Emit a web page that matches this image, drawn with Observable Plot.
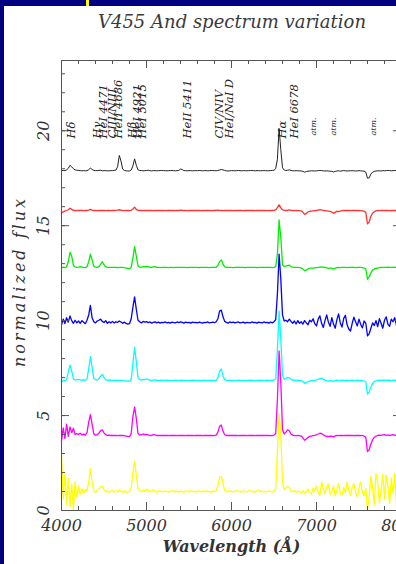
<!DOCTYPE html>
<html>
<head>
<meta charset="utf-8">
<script src="https://cdn.jsdelivr.net/npm/d3@7"></script>
<script src="https://cdn.jsdelivr.net/npm/@observablehq/plot@0.6"></script>
<style>
  html, body { margin: 0; padding: 0; }
  body { width: 396px; height: 564px; overflow: hidden; position: relative; background: #000080; }
  #paper { position: absolute; left: 4px; top: 6px; width: 420px; height: 570px; background: #ffffff; }
  #mark { position: absolute; left: 86px; top: 0; width: 3px; height: 6px; background: #ffff00; }
  #title { position: absolute; left: 0; top: 11px; width: 464px; text-align: center; font: italic 18px "DejaVu Serif"; line-height: 22px; color: #3a3a3a; }
  #chart { position: absolute; left: 0; top: 0; }
</style>
</head>
<body>
<div id="paper"></div>
<div id="mark"></div>
<div id="title">V455 And spectrum variation</div>
<div id="chart"></div>
<script>
// wavelength grid (Å), one sample every 20 Å
const wavelength = d3.range(4000, 8001, 20);

const seriesNames = ["black", "red", "green", "blue", "cyan", "magenta", "yellow"];
const seriesColors = ["#222222", "#ff3333", "#00ee00", "#0000ff", "#00ffff", "#ff00ff", "#ffff00"];
const seriesOffsets = [16.9, 14.8, 11.8, 8.9, 5.85, 2.95, 0];

// fluxes in hundredths of continuum
const fluxBlack = [
100,101,100,104,112,128,120,110,104,102,
101,100,99,100,99,100,104,114,106,101,
100,100,101,102,99,100,100,99,99,100,
100,101,103,120,180,150,108,101,99,98,
98,103,125,162,128,104,101,100,99,100,
101,102,100,99,100,100,99,100,100,101,
100,100,99,100,100,101,100,99,100,101,
108,106,100,100,99,100,100,99,100,100,
100,101,100,99,100,100,99,100,101,100,
100,99,101,103,106,104,101,99,98,99,
100,100,99,100,101,100,99,100,100,99,
100,100,101,100,99,100,100,99,100,100,
100,99,100,100,101,102,110,160,322,210,
115,103,101,102,104,101,99,99,100,99,
99,98,96,92,95,97,98,99,99,98,
99,100,101,100,99,98,99,98,97,96,
93,96,98,99,97,99,100,99,98,99,
99,100,99,98,99,100,99,98,97,92,
60,62,82,92,96,98,99,99,98,100,
99,100,101,100,99,100,101,100,99,100,
100];
const fluxRed = [
88,93,97,100,104,112,106,101,100,99,
100,101,100,99,100,100,102,106,102,100,
100,99,100,101,100,100,99,100,100,99,
100,100,101,102,104,102,100,99,100,100,
99,101,108,118,106,101,100,100,99,100,
100,101,100,100,99,100,100,101,100,100,
100,99,100,100,101,100,100,99,100,100,
102,101,100,100,99,100,100,101,100,100,
100,100,99,100,100,101,100,100,99,100,
100,101,102,101,100,99,100,100,101,100,
100,99,100,100,101,100,100,99,100,100,
100,101,100,100,99,100,101,100,100,100,
100,99,100,101,100,101,104,115,130,114,
104,101,100,101,103,101,100,99,100,99,
99,98,92,80,84,92,96,97,98,99,
100,102,104,103,100,99,98,97,95,92,
85,90,96,94,97,99,100,101,100,100,
99,100,101,100,99,100,99,98,96,90,
30,40,70,86,94,98,100,99,100,101,
100,101,100,99,100,101,100,100,101,100,
100];
const fluxGreen = [
98,102,99,104,130,180,160,112,103,101,
102,104,102,100,99,104,130,170,140,106,
102,101,104,118,130,114,104,101,100,101,
100,100,101,99,100,101,100,99,97,95,
93,100,150,210,160,108,101,102,105,104,
106,104,101,100,103,104,101,100,99,100,
100,101,100,99,100,100,99,100,101,100,
100,101,100,100,99,100,100,101,100,100,
100,99,100,100,101,100,100,99,100,100,
100,101,110,132,140,118,103,100,100,100,
100,99,100,100,101,100,100,100,99,100,
100,100,101,100,100,99,100,100,101,100,
100,101,100,100,99,100,104,170,350,260,
112,105,108,110,112,105,102,101,100,100,
99,98,92,84,86,92,96,97,97,98,
99,100,102,103,102,100,98,95,96,97,
92,96,99,100,99,100,101,100,99,100,
100,101,100,99,100,101,100,99,97,92,
38,50,72,86,92,95,97,99,101,100,
101,100,102,101,100,101,102,100,101,100,
101];
const fluxBlue = [
88,118,95,125,102,135,110,96,112,98,
108,96,110,102,94,112,140,190,125,104,
98,108,112,118,106,100,110,96,104,98,
106,97,104,101,108,103,96,102,95,92,
94,120,180,235,170,112,104,98,106,102,
105,99,103,97,101,104,98,102,97,101,
99,103,98,101,97,102,100,98,103,99,
104,101,97,102,99,101,97,102,99,101,
98,102,100,97,101,99,103,98,100,102,
99,104,120,160,165,130,106,101,97,103,
99,102,98,101,103,98,100,102,97,101,
100,98,103,99,101,97,102,100,98,103,
99,101,97,103,98,104,115,250,460,330,
140,108,112,104,118,106,96,108,92,110,
96,104,92,110,98,88,112,104,120,94,
82,118,135,96,74,110,140,102,80,126,
92,70,115,145,98,76,122,138,88,66,
55,96,128,104,82,118,90,72,108,96,
30,42,70,98,84,110,78,120,96,70,
112,130,92,80,118,104,126,88,110,124,
96];
const fluxCyan = [
92,100,98,104,145,180,150,108,102,104,
105,103,101,103,101,108,160,225,170,110,
104,102,108,124,132,116,104,101,102,101,
100,100,101,99,100,100,99,98,97,96,
95,105,190,275,200,115,104,102,106,104,
108,106,101,100,102,103,101,100,100,101,
100,100,101,100,99,100,100,101,100,100,
100,101,100,100,100,99,100,101,100,100,
100,100,99,100,101,100,100,100,99,100,
100,101,115,150,160,125,104,100,100,101,
100,100,99,100,101,100,100,99,100,100,
100,101,100,100,99,100,100,101,100,100,
100,101,100,100,101,102,108,260,465,320,
125,106,110,116,114,106,102,101,100,101,
100,99,94,85,88,94,97,99,100,101,
103,106,110,112,106,102,99,98,99,98,
95,99,101,100,99,101,100,99,101,100,
100,101,100,99,101,100,99,100,97,92,
28,40,66,84,94,98,100,102,100,102,
101,100,102,101,99,101,102,100,101,100,
101];
const fluxMagenta = [
70,140,85,160,95,145,115,138,105,110,
106,112,103,107,102,115,170,210,160,108,
102,104,112,126,130,114,104,101,102,100,
100,101,100,99,100,101,100,99,97,95,
94,110,200,250,190,110,102,104,108,105,
106,103,100,101,104,103,100,101,100,100,
100,101,100,99,100,100,101,100,99,100,
101,100,100,99,100,101,100,100,99,100,
100,101,100,99,100,100,101,100,100,99,
100,102,118,148,155,122,104,100,101,100,
100,100,101,100,99,100,100,101,100,99,
100,101,100,100,99,100,101,100,100,100,
100,101,100,99,100,102,110,290,545,380,
130,108,118,130,125,108,102,100,99,100,
99,97,88,75,82,90,95,97,99,101,
104,108,112,110,104,98,96,94,96,97,
92,98,100,99,101,100,99,101,100,100,
100,101,99,100,101,100,99,100,97,90,
15,25,55,78,90,96,100,102,101,103,
104,101,103,100,102,104,101,103,100,102,
101];
const fluxYellow = [
290,60,200,30,170,20,140,5,150,70,
130,85,115,90,110,105,150,220,150,105,
95,108,112,125,128,110,98,104,96,102,
106,98,103,97,108,100,96,104,95,98,
100,120,200,258,190,115,104,98,108,102,
112,106,98,104,110,102,96,104,99,103,
97,104,100,96,103,99,105,98,102,97,
103,99,96,104,100,98,105,99,102,97,
101,104,97,102,99,105,98,101,96,103,
100,105,130,175,180,140,108,98,104,99,
103,97,101,106,99,102,96,104,100,98,
102,106,98,101,97,104,108,99,103,97,
101,98,104,100,97,103,115,310,510,400,
150,110,118,128,120,104,98,106,96,103,
98,92,104,88,100,112,94,86,118,104,
130,96,80,150,112,88,125,140,84,100,
128,76,110,142,90,82,120,95,150,105,
80,125,140,95,70,118,150,100,78,115,
10,70,180,120,30,195,150,40,110,190,
60,185,130,35,170,90,195,25,150,60,
175];

const seriesFlux = [fluxBlack, fluxRed, fluxGreen, fluxBlue, fluxCyan, fluxMagenta, fluxYellow];

// line identifications (label text, wavelength position of label)
const lineLabelTexts = ["Hδ", "Hγ", "HeI 4471", "CIII/NIII", "HeII 4686", "Hβ", "HeI 4921", "HeI 5015", "HeII 5411", "CIV/NIV", "HeI/NaI D", "Hα", "HeI 6678"];
const lineLabelWaves = [4059, 4365, 4435, 4541, 4612, 4776, 4835, 4894, 5424, 5800, 5918, 6541, 6682];
const atmLabelTexts = ["atm.", "atm.", "atm."];
const atmLabelWaves = [6929, 7165, 7635];

const xMajorTicks = [4000, 5000, 6000, 7000, 8000];
const xMinorTicks = d3.range(4000, 8001, 200);
const yMajorTicks = [0, 5, 10, 15, 20];
const yMinorTicks = d3.range(0, 24, 1);

const rows = [];
seriesFlux.forEach((vals, s) => vals.forEach((v, i) => rows.push({wl: wavelength[i], flux: v / 100 + seriesOffsets[s], series: seriesNames[s]})));

const W = 410, H = 564, mL = 61, mR = 9, mT = 60, mB = 54;
const innerW = W - mL - mR, innerH = H - mT - mB;
const font = "DejaVu Serif";
const ink = "#333";

const lines = seriesNames.map((name, s) => Plot.line(rows.filter(r => r.series === name), {
  x: "wl", y: "flux", stroke: seriesColors[s], strokeWidth: s === 0 ? 1 : 1.3
}));

const chart = Plot.plot({
  width: W, height: H,
  marginLeft: mL, marginRight: mR, marginTop: mT, marginBottom: mB,
  style: {background: "transparent", maxWidth: "none", overflow: "visible"},
  x: {domain: [4000, 8000], axis: null},
  y: {domain: [0, 23.7], axis: null},
  marks: [
    ...lines,
    Plot.frame({stroke: "#555", strokeWidth: 1}),
    // inward ticks, bottom/top
    Plot.tickX(xMinorTicks, {x: d => d, insetTop: innerH - 4, stroke: "#555"}),
    Plot.tickX(xMinorTicks, {x: d => d, insetBottom: innerH - 4, stroke: "#555"}),
    Plot.tickX(xMajorTicks, {x: d => d, insetTop: innerH - 8, stroke: "#555"}),
    Plot.tickX(xMajorTicks, {x: d => d, insetBottom: innerH - 8, stroke: "#555"}),
    // inward ticks, left/right
    Plot.tickY(yMinorTicks, {y: d => d, insetRight: innerW - 4, stroke: "#555"}),
    Plot.tickY(yMinorTicks, {y: d => d, insetLeft: innerW - 4, stroke: "#555"}),
    Plot.tickY(yMajorTicks, {y: d => d, insetRight: innerW - 8, stroke: "#555"}),
    Plot.tickY(yMajorTicks, {y: d => d, insetLeft: innerW - 8, stroke: "#555"}),
    // tick labels
    Plot.text(xMajorTicks, {x: d => d, text: d => String(d), frameAnchor: "bottom", dy: 20,
      fontFamily: font, fontStyle: "italic", fontSize: 16, fill: ink}),
    Plot.text(yMajorTicks, {y: d => d, text: d => String(d), frameAnchor: "left", dx: -18, rotate: -90,
      textAnchor: "middle", fontFamily: font, fontStyle: "italic", fontSize: 16, fill: ink}),
    // axis titles
    Plot.text(["Wavelength (Å)"], {text: d => d, frameAnchor: "bottom", dy: 41,
      fontFamily: font, fontStyle: "italic", fontWeight: "bold", fontSize: 16, fill: ink}),
    Plot.text(["normalized flux"], {text: d => d, frameAnchor: "left", dx: -42, dy: -4, rotate: -90,
      textAnchor: "middle", fontFamily: font, fontStyle: "italic", fontSize: 16, fill: ink}),
    // line identifications
    Plot.text(lineLabelTexts, {x: (d, i) => lineLabelWaves[i], text: d => d, frameAnchor: "top", dy: 78,
      rotate: -90, textAnchor: "start", fontFamily: font, fontStyle: "italic", fontSize: 11.5, fill: "#222"}),
    Plot.text(atmLabelTexts, {x: (d, i) => atmLabelWaves[i], text: d => d, frameAnchor: "top", dy: 75,
      rotate: -90, textAnchor: "start", fontFamily: font, fontStyle: "italic", fontSize: 8, fill: "#222"})
  ]
});
// widen the letter spacing of the y-axis title as in the original lettering
chart.querySelectorAll("text").forEach(t => {
  if (t.textContent === "normalized flux") t.setAttribute("letter-spacing", "3");
});
document.getElementById("chart").appendChild(chart);
</script>
</body>
</html>
